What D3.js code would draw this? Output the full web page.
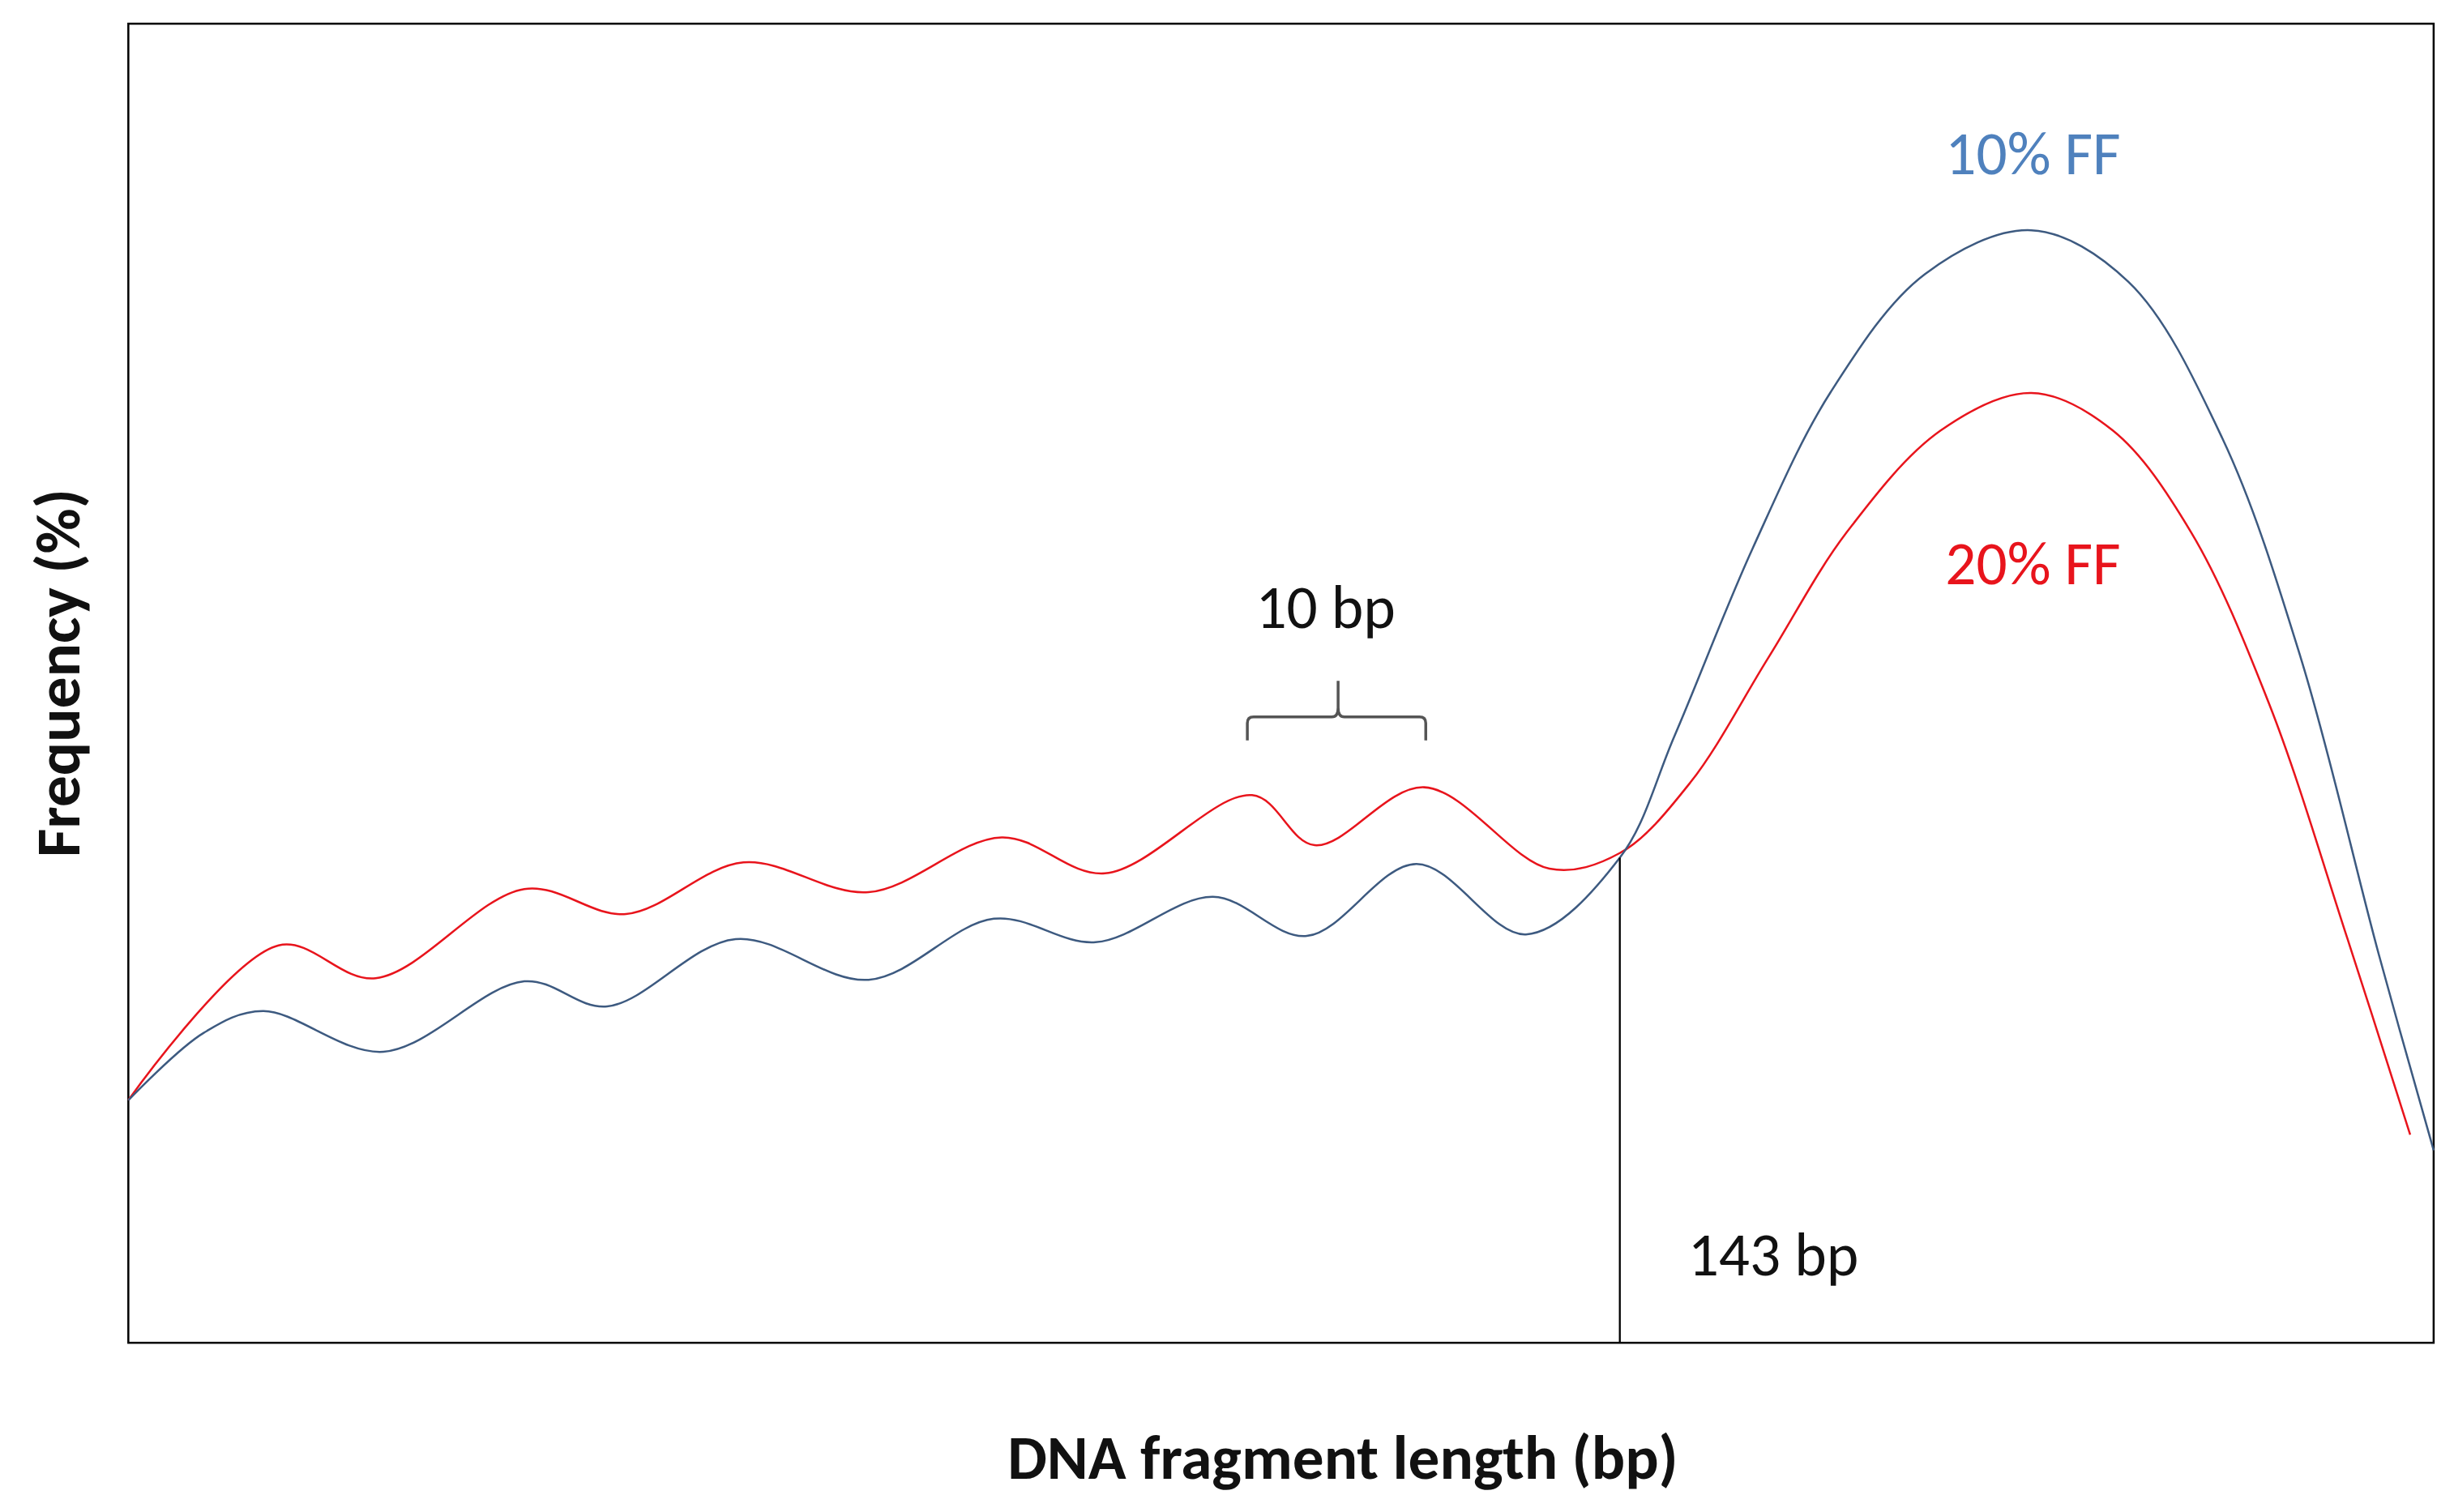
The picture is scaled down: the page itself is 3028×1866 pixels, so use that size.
<!DOCTYPE html>
<html><head><meta charset="utf-8">
<script src="https://cdn.jsdelivr.net/npm/d3@7"></script>
<style>body{margin:0;background:#fff}</style>
</head><body>
<svg id="chart" width="3028" height="1866" viewBox="0 0 1568 966"></svg>
<script>
// data (arbitrary units)
var blueX = [0,48,86,163,253,306,388,473,553,618,693,753,823,893,953,988,1038,1088,1148,1216,1278,1338,1388,1438,1473];
var blueY = [155,198,212,186,231,215,258,232,271,256,285,260,306,261,310,388,508,608,683,711,678,578,438,248,123];
var redX = [0,96,158,253,318,393,473,558,624,718,758,828,908,953,998,1048,1098,1158,1216,1268,1318,1368,1418,1458];
var redY = [155,254,233,290,274,307,288,323,300,350,318,355,303,313,358,438,518,583,607,583,518,408,258,133];
var markX = 953; // 143 bp

var m = {left:82, top:15, right:1555, bottom:858};
var svg = d3.select('#chart');
var x = d3.scaleLinear().domain([0,1473]).range([m.left,m.right]);
var y = d3.scaleLinear().domain([0,843]).range([m.bottom,m.top]);

svg.append('rect').attr('x',m.left).attr('y',m.top)
    .attr('width',m.right-m.left).attr('height',m.bottom-m.top)
    .style('fill','none').style('stroke','#000').style('stroke-width',1.3);

var line = d3.line().x(function(d){return x(d[0]);}).y(function(d){return y(d[1]);})
    .curve(d3.curveCatmullRom.alpha(0.5));

svg.append('path').datum(d3.zip(redX,redY)).attr('d',line)
    .style('fill','none').style('stroke','#e8141c').style('stroke-width',1.3);
svg.append('path').datum(d3.zip(blueX,blueY)).attr('d',line)
    .style('fill','none').style('stroke','#3d5a80').style('stroke-width',1.3);

// 143 bp marker
svg.append('line').attr('x1',x(markX)).attr('x2',x(markX))
    .attr('y1',y(310)).attr('y2',m.bottom)
    .style('stroke','#000').style('stroke-width',1.2);

// brace
svg.append('path')
    .attr('d','M797,473 L797,462 Q797,458 801,458 L851,458 Q855,458 855,452 L855,435 M855,452 Q855,458 859,458 L907,458 Q911,458 911,462 L911,473')
    .style('fill','none').style('stroke','#555').style('stroke-width',1.8);

function label(t,xx,yy,col,size,bold){
    return svg.append('text').attr('x',xx).attr('y',yy).attr('text-anchor','middle')
        .style('font-family',"Carlito, 'Open Sans', sans-serif").style('font-size',size+'px')
        .style('font-weight',bold?'bold':'normal').style('fill',col).text(t);
}
label('10% FF',1299,111,'#4f81bd',39);
label('20% FF',1299,373,'#e8141c',39);
label('10 bp',847,401,'#111',39);
label('143 bp',1133,815,'#111',39);
label('DNA fragment length (bp)',858,945,'#111',40,true);
label('Frequency (%)',0,0,'#111',40,true).attr('transform','translate(51,430) rotate(-90)');
</script>
</body></html>
